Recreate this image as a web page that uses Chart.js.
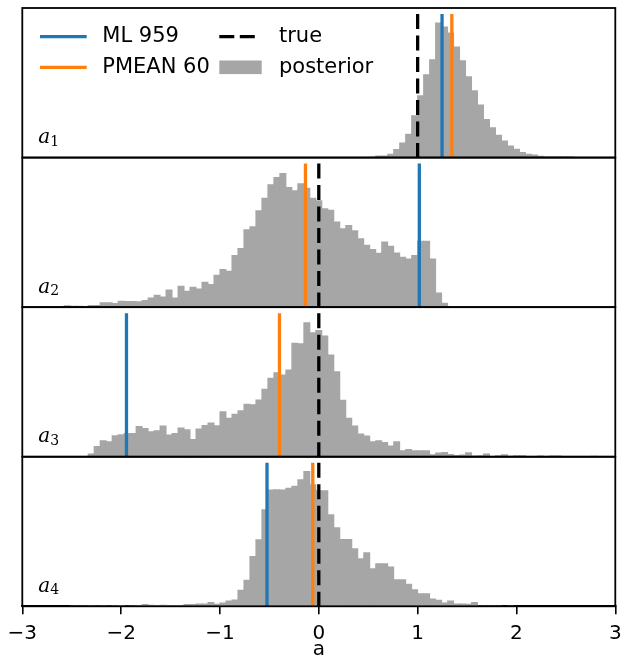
<!DOCTYPE html>
<html>
<head>
<meta charset="utf-8">
<script src="https://cdn.jsdelivr.net/npm/chart.js@4.4.0/dist/chart.umd.min.js"></script>
<style>
html, body { margin: 0; padding: 0; background: #fff; overflow: hidden; }
canvas { display: block; }
</style>
</head>
<body>
<canvas id="hist" width="622" height="657"></canvas>
<script>
// 99 equal bins over [-3, 3], shared by all four panels
const binLo = -3, binHi = 3, nBins = 99;
const tickValues = [-3, -2, -1, 0, 1, 2, 3];
const panelNames = ['1', '2', '3', '4'];
const seriesNames = ['ML 959', 'PMEAN 60', 'true', 'posterior'];

// vertical markers per panel (a1..a4)
const mlValues = [1.247, 1.017, -1.946, -0.524];
const pmeanValues = [1.346, -0.135, -0.398, -0.061];
const trueValues = [1.0, 0.0, 0.0, 0.0];
const lineTop = 144;
const panelTop = 150;

// posterior histograms (bin heights, arbitrary density units)
const post1 = [
  0, 0, 0, 0, 0, 0, 0, 0, 0, 0, 0,
  0, 0, 0, 0, 0, 0, 0, 0, 0, 0, 0,
  0, 0, 0, 0, 0, 0, 0, 0, 0, 0, 0,
  0, 0, 0, 0, 0, 0, 0, 0, 0, 0, 0,
  0, 0, 0, 0, 0, 0, 0, 0, 0, 0, 0,
  0, 0, 0, 0.3, 1.7, 1.7, 3.3, 8, 14.5, 23.5, 42,
  62, 83, 98, 135, 131, 125, 111, 97, 81, 67, 52.7,
  38.3, 30, 22.3, 16.7, 11.7, 8.3, 5, 3.3, 2.7, 1.3, 0.7,
  0.7, 0.7, 0.5, 0.5, 0, 0, 0, 0, 0, 0, 0
];
const post2 = [
  0, 0, 0, 0.7, 0.3, 0.3, 0.5, 1.3, 1.0, 1.0, 0.7,
  1.7, 1.7, 4.3, 4.3, 3.7, 6, 5.7, 5.7, 5.3, 6.7, 9.3,
  12, 10.3, 17.3, 9.3, 21, 16, 20, 18.3, 25, 22.7, 32,
  37.7, 36, 51.7, 58.7, 77.7, 80.7, 96.7, 109.3, 122.7, 130, 134,
  120, 116.7, 123.7, 119.3, 109.3, 106.7, 98.7, 97.3, 85.3, 78.7, 82,
  76.7, 68.7, 62, 57.7, 54, 65.3, 61, 54.3, 50, 48.3, 51.7,
  66, 66, 48.3, 14.3, 4, 0, 0, 0, 0, 0, 0,
  0, 0, 0, 0, 0, 0, 0, 0, 0, 0, 0,
  0, 0, 0, 0, 0, 0, 0, 0, 0, 0, 0
];
const post3 = [
  0, 0, 0, 0, 0, 0, 0, 0, 0, 0, 0,
  2.7, 10.3, 16, 15, 21, 22, 23.3, 23.3, 30.3, 28.3, 25,
  26, 30.7, 21.7, 23.3, 28.7, 27, 17.3, 27.7, 31.3, 33.7, 31,
  45, 38.7, 42.7, 46, 52.7, 52, 57, 67.7, 78.7, 84.3, 82,
  87, 113.7, 113.3, 134.3, 124.3, 126.7, 121, 102, 85.3, 56.7, 38.7,
  30.7, 22.7, 20.7, 15, 16, 14.3, 10.7, 15, 6, 7.3, 6,
  6, 6, 2, 3.7, 4.3, 2.3, 1.3, 1.7, 4, 0.7, 1,
  2.7, 0.3, 1, 2, 0.5, 1, 1, 0.3, 0.3, 0.7, 0.3,
  0.7, 0.7, 0.3, 0.3, 0.3, 0.3, 0.3, 0.5, 0, 0, 0
];
const post4 = [
  0, 0, 0, 0, 0, 0, 0, 0, 0.3, 0.3, 0.3,
  0.5, 0.3, 0.5, 0.3, 0.5, 0.7, 0.3, 0.5, 0.7, 1.7, 1,
  0.7, 1, 0.7, 0.7, 0.7, 1.7, 1.7, 2.3, 2.3, 3.7, 2,
  3.3, 5.3, 6.3, 16, 26, 50, 66.7, 96.7, 116.7, 117, 116.7,
  118.3, 120.3, 127, 135.3, 122, 116, 116, 91.7, 78.7, 67, 67,
  57.7, 47.7, 53.7, 37.7, 42.7, 42.7, 39.3, 26.7, 26.7, 22, 16.7,
  12.7, 12.7, 7.3, 6, 3.3, 5.3, 2.3, 2.3, 2, 3.7, 0.3,
  0.3, 0.3, 0.3, 0, 0.3, 0, 0, 0, 0, 0, 0,
  0, 0, 0, 0, 0, 0, 0, 0, 0, 0, 0
];

const blue = '#1f77b4', orange = '#ff7f0e', grey = '#a6a6a6';
const font = 'DejaVu Sans';

const binWidth = (binHi - binLo) / nBins;
const binCenters = post1.map((_, k) => binLo + (k + 0.5) * binWidth);
const posteriors = [post1, post2, post3, post4];

function vline(x, axis, label, color, dash) {
  return {
    type: 'line', label: label, yAxisID: axis,
    data: [{x: x, y: lineTop}, {x: x, y: 0}],
    borderColor: color, borderWidth: 3.3, borderDash: dash || [],
    pointRadius: 0, tension: 0, fill: false, order: 0
  };
}

const datasets = [];
posteriors.forEach((counts, i) => {
  const axis = 'y' + (i + 1);
  datasets.push(vline(mlValues[i], axis, seriesNames[0], blue));
  datasets.push(vline(pmeanValues[i], axis, seriesNames[1], orange));
  datasets.push(vline(trueValues[i], axis, seriesNames[2], '#000', [15, 6.5]));
  datasets.push({
    type: 'bar', label: seriesNames[3], yAxisID: axis,
    data: counts.map((c, k) => ({x: binCenters[k], y: c > 0 ? c : null})),
    backgroundColor: grey, borderWidth: 0, inflateAmount: 0.5,
    barPercentage: 1, categoryPercentage: 1, grouped: false, order: 1
  });
});

const scales = {
  x: {
    type: 'linear', position: 'bottom', min: binLo, max: binHi, offset: false,
    afterBuildTicks: s => { s.ticks = tickValues.map(v => ({value: v})); },
    // fixed axis band below the panels, no extra side padding for edge labels
    afterFit: s => {
      s.height = 50.7;
      s.paddingLeft = 0; s.paddingRight = 0; s.paddingTop = 0; s.paddingBottom = 0;
    },
    ticks: {
      color: '#000', padding: 7.4, maxRotation: 0, autoSkip: false,
      font: {family: font, size: 20},
      callback: v => v < 0 ? '\u2212' + Math.abs(v) : String(v)
    },
    grid: {drawOnChartArea: false, drawTicks: true, tickLength: 8, color: '#000', lineWidth: 1.6, offset: false},
    border: {display: true, color: '#000', width: 1.8},
    title: {display: true, text: 'a', color: '#000', padding: {top: 0, bottom: 0.8},
            font: {family: font, size: 20, lineHeight: 0.6}}
  }
};
panelNames.forEach((n, i) => {
  scales['y' + (i + 1)] = {type: 'linear', display: false,
    min: -(3 - i) * panelTop, max: (i + 1) * panelTop};
});

// panel boxes and a_i labels
const framePlugin = {
  id: 'frames',
  afterDatasetsDraw(chart) {
    const ctx = chart.ctx, a = chart.chartArea;
    ctx.save();
    ctx.strokeStyle = '#000';
    ctx.lineWidth = 1.8;
    ctx.fillStyle = '#000';
    ctx.textBaseline = 'alphabetic';
    panelNames.forEach((n, i) => {
      const ys = chart.scales['y' + (i + 1)];
      const top = ys.getPixelForValue(panelTop), bot = ys.getPixelForValue(0);
      ctx.strokeRect(a.left, top, a.right - a.left, bot - top);
      ctx.font = 'italic 20px "DejaVu Serif"';
      ctx.fillText('a', a.left + 16, bot - 14.6);
      ctx.font = '14px "DejaVu Serif"';
      ctx.fillText(n, a.left + 28, bot - 12);
    });
    ctx.restore();
  }
};

// two-column legend in the top panel
const legendPlugin = {
  id: 'panelLegend',
  afterDraw(chart) {
    const ctx = chart.ctx, a = chart.chartArea;
    const cols = [a.left + 17.7, a.left + 197];
    const rows = [a.top + 28.7, a.top + 59.3];
    const items = [
      {col: 0, row: 0, kind: 'line', color: blue, text: seriesNames[0]},
      {col: 0, row: 1, kind: 'line', color: orange, text: seriesNames[1]},
      {col: 1, row: 0, kind: 'dash', color: '#000', text: seriesNames[2]},
      {col: 1, row: 1, kind: 'patch', color: grey, text: seriesNames[3]}
    ];
    ctx.save();
    items.forEach(it => {
      const x = cols[it.col], y = rows[it.row];
      if (it.kind === 'patch') {
        ctx.fillStyle = it.color;
        ctx.fillRect(x, y - 6.8, 42.4, 13.6);
      } else {
        ctx.strokeStyle = it.color;
        ctx.lineWidth = 3.3;
        ctx.setLineDash(it.kind === 'dash' ? [15, 5.5] : []);
        ctx.beginPath();
        ctx.moveTo(x, y);
        ctx.lineTo(x + (it.kind === 'dash' ? 35.7 : 46.7), y);
        ctx.stroke();
      }
      ctx.setLineDash([]);
      ctx.fillStyle = '#000';
      ctx.font = '21px "' + font + '"';
      ctx.textBaseline = 'middle';
      ctx.fillText(it.text, x + (it.col === 0 ? 62.3 : 59.7), y);
    });
    ctx.restore();
  }
};

new Chart(document.getElementById('hist'), {
  type: 'bar',
  data: {datasets: datasets},
  options: {
    responsive: false,
    maintainAspectRatio: false,
    animation: false,
    events: [],
    layout: {padding: {left: 22.3, right: 6.7, top: 8, bottom: 0}},
    scales: scales,
    plugins: {legend: {display: false}, tooltip: {enabled: false}}
  },
  plugins: [framePlugin, legendPlugin]
});
</script>
</body>
</html>
